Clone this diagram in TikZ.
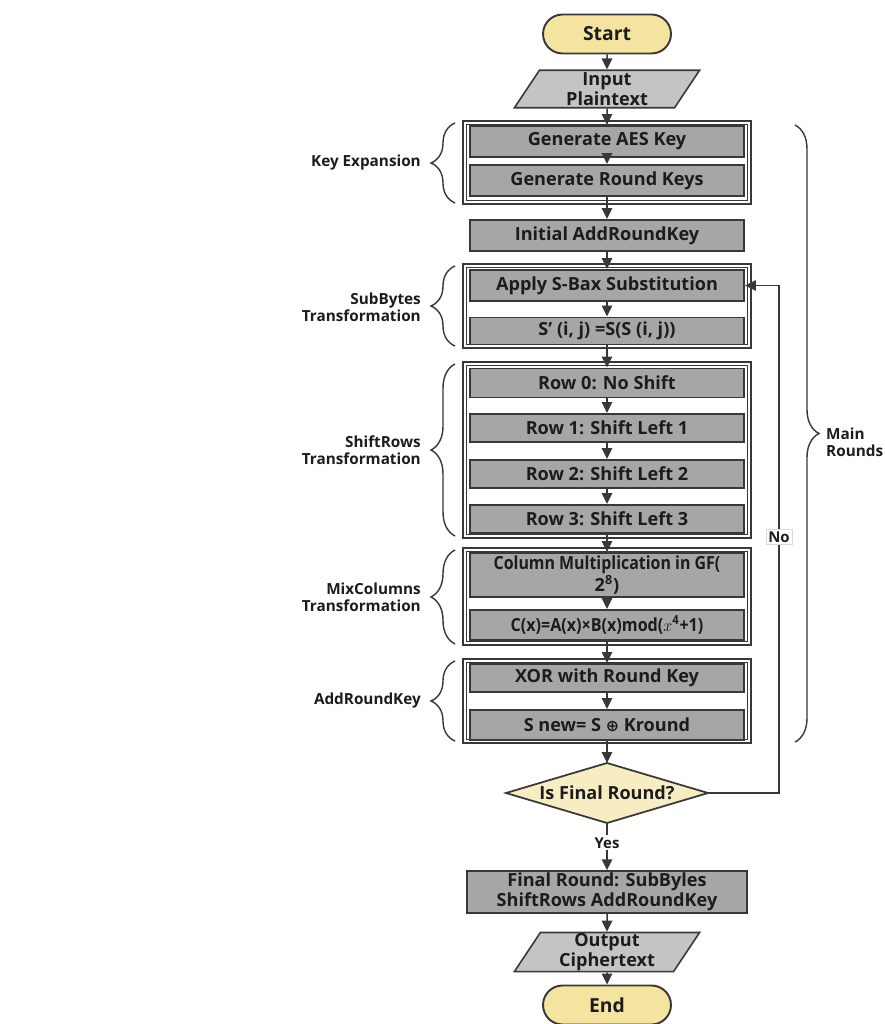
\documentclass[tikz,border=0pt]{standalone}
\usepackage{fontspec}
\usepackage{graphicx}
\setmainfont{Open Sans}
\newfontfamily\symfont{DejaVu Sans}
\usetikzlibrary{arrows.meta,shapes.geometric,decorations.pathreplacing}
\definecolor{ink}{HTML}{383838}
\definecolor{procfill}{HTML}{A6A6A6}
\definecolor{iofill}{HTML}{C4C4C4}
\definecolor{termfill}{HTML}{F5E3A0}
\definecolor{decfill}{HTML}{F8EDC2}
\definecolor{txt}{HTML}{1C1C1C}

\begin{document}
\begin{tikzpicture}[x=0.02cm,y=-0.02cm,
  font=\bfseries\fontsize{10.3}{10.2}\selectfont,
  proc/.style={draw=ink, line width=1.1pt, fill=procfill, text=txt,
    minimum width=5.48cm, inner sep=1pt, align=center},
  term/.style={draw=ink, line width=1.1pt, fill=termfill, text=txt,
    rounded corners=0.39cm, minimum width=2.56cm, minimum height=0.78cm,
    font=\bfseries\fontsize{11}{12}\selectfont},
  io/.style={trapezium, trapezium left angle=66, trapezium right angle=114,
    trapezium stretches=true, draw=ink, line width=0.9pt, fill=iofill, text=txt,
    minimum width=3.72cm, minimum height=0.75cm, inner sep=0.5pt, align=center},
  decshape/.style={draw=ink, line width=1pt, fill=decfill},
  grpouter/.style={draw=ink, line width=1.1pt},
  grpinner/.style={draw=ink, line width=0.7pt},
  arr/.style={draw=ink, line width=0.85pt, -{Triangle[width=0.21cm,length=0.22cm]}},
  brc/.style={draw=ink, line width=0.8pt, decorate,
    decoration={brace, amplitude=0.48cm}},
  side/.style={text=txt, align=right, anchor=east,
    font=\bfseries\fontsize{8.7}{9.8}\selectfont},
  lbl/.style={fill=white, text=txt, inner sep=1.2pt,
    font=\bfseries\fontsize{8.5}{9}\selectfont}
]
\useasboundingbox (0,0) rectangle (885,1024);

% group frames (double border)
\foreach \ya/\yb in {121/204, 264/348, 362/538, 548/645, 659/743}{
  \draw[grpouter] (463,\ya) rectangle (751,\yb);
  \draw[grpinner] (466.5,\ya+3.5) rectangle (747.5,\yb-3.5);
}

% terminals and data
\node[term] (start) at (607,34) {Start};
\node[io] (input) at (607,89) {Input\\Plaintext};

% key expansion
\node[proc, minimum height=0.62cm] (genaes) at (607,141.5) {Generate AES Key};
\node[proc, minimum height=0.62cm] (genrk) at (607,180.5) {Generate Round Keys};
\node[proc, minimum height=0.62cm] (init) at (607,235.5) {Initial AddRoundKey};

% sub bytes
\node[proc, minimum height=0.62cm] (sbox) at (607,285.5) {Apply S-Bax Substitution};
\node[proc, minimum height=0.54cm] (sprime) at (607,331) {S’ (i, j) =S(S (i, j))};

% shift rows
\node[proc, minimum height=0.58cm] (row0) at (607,383) {Row 0: No Shift};
\node[proc, minimum height=0.56cm] (row1) at (607,428) {Row 1: Shift Left 1};
\node[proc, minimum height=0.56cm] (row2) at (607,474) {Row 2: Shift Left 2};
\node[proc, minimum height=0.56cm] (row3) at (607,519) {Row 3: Shift Left 3};

% mix columns
\node[proc, minimum height=0.88cm] (colmul) at (607,575)
  {\scalebox{0.88}[1]{Column Multiplication in GF(}\\2\textsuperscript{8})};
\node[proc, minimum height=0.6cm] (cx) at (607,625)
  {\scalebox{0.89}[1]{C(x)=A(x)×B(x)mod($x$\textsuperscript{4}+1)}};

% add round key
\node[proc, minimum height=0.56cm] (xor) at (607,678) {XOR with Round Key};
\node[proc, minimum height=0.6cm] (snew) at (607,725)
  {S new= S {\symfont\fontsize{9}{10}\selectfont ⊕} Kround};

% decision: diamond outline through its four corner points
\coordinate (decN) at (607,763);
\coordinate (decE) at (708,793);
\coordinate (decS) at (607,823);
\coordinate (decW) at (506,793);
\draw[decshape] (decN) -- (decE) -- (decS) -- (decW) -- cycle;
\node[text=txt] (dec) at (607,793) {Is Final Round?};

% final stage
\node[proc, minimum width=5.6cm, minimum height=0.8cm] (final) at (607,892) {Final Round: SubByles\\ShiftRows AddRoundKey};
\node[io, trapezium left angle=64, trapezium right angle=116] (output) at (607,952) {Output\\Ciphertext};
\node[term] (end) at (607,1005) {End};

% main flow
\draw[arr] (start) -- (input);
\draw[arr] (input) -- (genaes);
\draw[arr] (genaes) -- (genrk);
\draw[arr] (genrk) -- (init);
\draw[arr] (init) -- (sbox);
\draw[arr] (sbox) -- (sprime);
\draw[arr] (sprime) -- (row0);
\draw[arr] (row0) -- (row1);
\draw[arr] (row1) -- (row2);
\draw[arr] (row2) -- (row3);
\draw[arr] (row3) -- (colmul);
\draw[arr] (colmul) -- (cx);
\draw[arr] (cx) -- (xor);
\draw[arr] (xor) -- (snew);
\draw[arr] (snew) -- (decN);
\draw[arr] (decS) -- node[lbl, pos=0.42] (yes) {Yes} (final);
\draw[arr] (final) -- (output);
\draw[arr] (output) -- (end);

% loop back for the next round
\coordinate (loopup) at (779,285.5);
\draw[arr] (decE) -| (loopup) -- (sbox.east);
\node[lbl, draw=black!15, line width=0.3pt] (no) at (779,537) {No};

% stage braces
\draw[brc] (455,203) -- (455,123);
\node[side] (lke) at (427,163) {Key Expansion};
\draw[brc] (455,346) -- (455,266);
\node[side] (lsb) at (427,307) {SubBytes\\Transformation};
\draw[brc] (455,536) -- (455,364);
\node[side] (lsr) at (427,450) {ShiftRows\\Transformation};
\draw[brc] (455,644) -- (455,550);
\node[side] (lmc) at (427,597) {MixColumns\\Transformation};
\draw[brc] (455,741) -- (455,661);
\node[side] (lark) at (427,701) {AddRoundKey};

\draw[brc] (795,125) -- (795,742);
\node[side, align=left, anchor=west] (lmain) at (820,442) {Main\\Rounds};
\end{tikzpicture}
\end{document}
